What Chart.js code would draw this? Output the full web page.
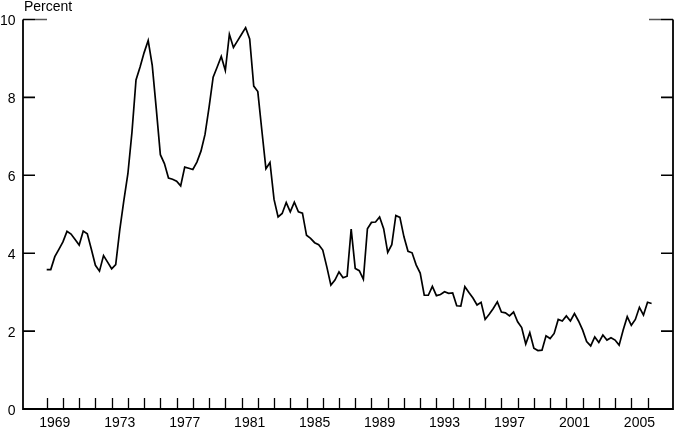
<!DOCTYPE html>
<html>
<head>
<meta charset="utf-8">
<script src="https://cdn.jsdelivr.net/npm/chart.js@4.4.1/dist/chart.umd.min.js"></script>
<style>
  html, body { margin: 0; padding: 0; background: #fff; }
  #wrap { width: 677px; height: 428px; }
</style>
</head>
<body>
<div id="wrap"><canvas id="chart" width="677" height="428"></canvas></div>
<script>
// quarterly series, 1969:Q1 to 2006:Q2
const startYear = 1969;
const rate = [
  3.58, 3.58, 3.91, 4.10, 4.29, 4.56, 4.49, 4.35, 4.21, 4.57,
  4.50, 4.10, 3.69, 3.54, 3.94, 3.77, 3.60, 3.71, 4.60, 5.35,
  6.04, 7.10, 8.45, 8.78, 9.15, 9.46, 8.82, 7.70, 6.53, 6.30,
  5.93, 5.90, 5.85, 5.73, 6.21, 6.18, 6.15, 6.34, 6.62, 7.05,
  7.75, 8.52, 8.78, 9.05, 8.69, 9.62, 9.28, 9.45, 9.62, 9.79,
  9.50, 8.29, 8.15, 7.15, 6.17, 6.33, 5.38, 4.93, 5.02, 5.30,
  5.06, 5.31, 5.06, 5.03, 4.46, 4.38, 4.27, 4.22, 4.08, 3.65,
  3.18, 3.31, 3.52, 3.37, 3.41, 4.62, 3.61, 3.55, 3.33, 4.63,
  4.79, 4.80, 4.93, 4.63, 4.02, 4.22, 4.97, 4.92, 4.42, 4.05,
  4.01, 3.70, 3.49, 2.92, 2.92, 3.15, 2.91, 2.94, 3.01, 2.97,
  2.98, 2.65, 2.64, 3.14, 2.99, 2.85, 2.67, 2.74, 2.30, 2.43,
  2.58, 2.75, 2.49, 2.47, 2.39, 2.49, 2.24, 2.09, 1.67, 1.96,
  1.56, 1.50, 1.51, 1.88, 1.81, 1.94, 2.30, 2.26, 2.39, 2.26,
  2.45, 2.26, 2.03, 1.73, 1.62, 1.85, 1.71, 1.90, 1.77, 1.83,
  1.77, 1.64, 2.03, 2.37, 2.15, 2.30, 2.61, 2.41, 2.74, 2.71
];
const yearLabels = ["1969", "1973", "1977", "1981", "1985", "1989", "1993", "1997", "2001", "2005"];
const yTicks = [0, 2, 4, 6, 8, 10];
const yearTickFirst = 1969, yearTickLast = 2006;
const yTitle = "Percent";

const points = rate.map((v, i) => ({ x: startYear + i / 4, y: v }));

const FONT = '14px "Liberation Sans", Arial, Helvetica, sans-serif';

// axes, inward ticks and labels drawn off the chart's own scales
const frame = {
  id: "frame",
  afterDraw(c) {
    const ctx = c.ctx, xs = c.scales.x, ys = c.scales.y, a = c.chartArea;
    const L = a.left, R = a.right, B = ys.getPixelForValue(0), T = ys.getPixelForValue(10);
    ctx.save();
    ctx.strokeStyle = "#000";
    ctx.lineWidth = 1.8;
    ctx.beginPath();
    ctx.moveTo(L, T); ctx.lineTo(L, B); ctx.lineTo(R, B); ctx.lineTo(R, T);
    ctx.stroke();

    // y ticks on both sides
    ctx.lineWidth = 1.6;
    yTicks.forEach(t => {
      const y = ys.getPixelForValue(t);
      ctx.strokeStyle = "#000";
      ctx.beginPath();
      ctx.moveTo(L, y); ctx.lineTo(L + 12, y);
      ctx.moveTo(R, y); ctx.lineTo(R - 12, y);
      ctx.stroke();
    });
    // longer gray top ticks
    ctx.strokeStyle = "#555";
    ctx.beginPath();
    ctx.moveTo(L + 12, T); ctx.lineTo(L + 24, T);
    ctx.moveTo(R - 12, T); ctx.lineTo(R - 24, T);
    ctx.stroke();

    // year ticks
    ctx.strokeStyle = "#000";
    ctx.lineWidth = 1.3;
    ctx.beginPath();
    for (let yr = yearTickFirst; yr <= yearTickLast; yr++) {
      const x = Math.round(xs.getPixelForValue(yr)) + 0.5;
      ctx.moveTo(x, B); ctx.lineTo(x, B - 11);
    }
    ctx.stroke();

    ctx.fillStyle = "#000";
    ctx.font = FONT;
    ctx.textAlign = "center";
    ctx.textBaseline = "alphabetic";
    yearLabels.forEach(lbl => {
      const x = xs.getPixelForValue(Number(lbl) + 0.5);
      ctx.fillText(lbl, x, 427);
    });

    ctx.textAlign = "right";
    yTicks.forEach(t => {
      ctx.fillText(String(t), 15.5, ys.getPixelForValue(t) + 5.5);
    });

    ctx.textAlign = "left";
    ctx.fillText(yTitle, 24, 11);
    ctx.restore();
  }
};

const chart = new Chart(document.getElementById("chart").getContext("2d"), {
  type: "line",
  data: {
    datasets: [{
      data: points,
      borderColor: "#000",
      borderWidth: 1.7,
      pointRadius: 0,
      tension: 0,
      fill: false
    }]
  },
  options: {
    responsive: false,
    animation: false,
    events: [],
    layout: { padding: { left: 23, right: 4, top: 19.5, bottom: 19 } },
    plugins: { legend: { display: false }, tooltip: { enabled: false } },
    scales: {
      x: { type: "linear", display: false, min: 1967.541, max: 2007.568 },
      y: { type: "linear", display: false, min: 0, max: 10 }
    }
  },
  plugins: [frame]
});
</script>
</body>
</html>
